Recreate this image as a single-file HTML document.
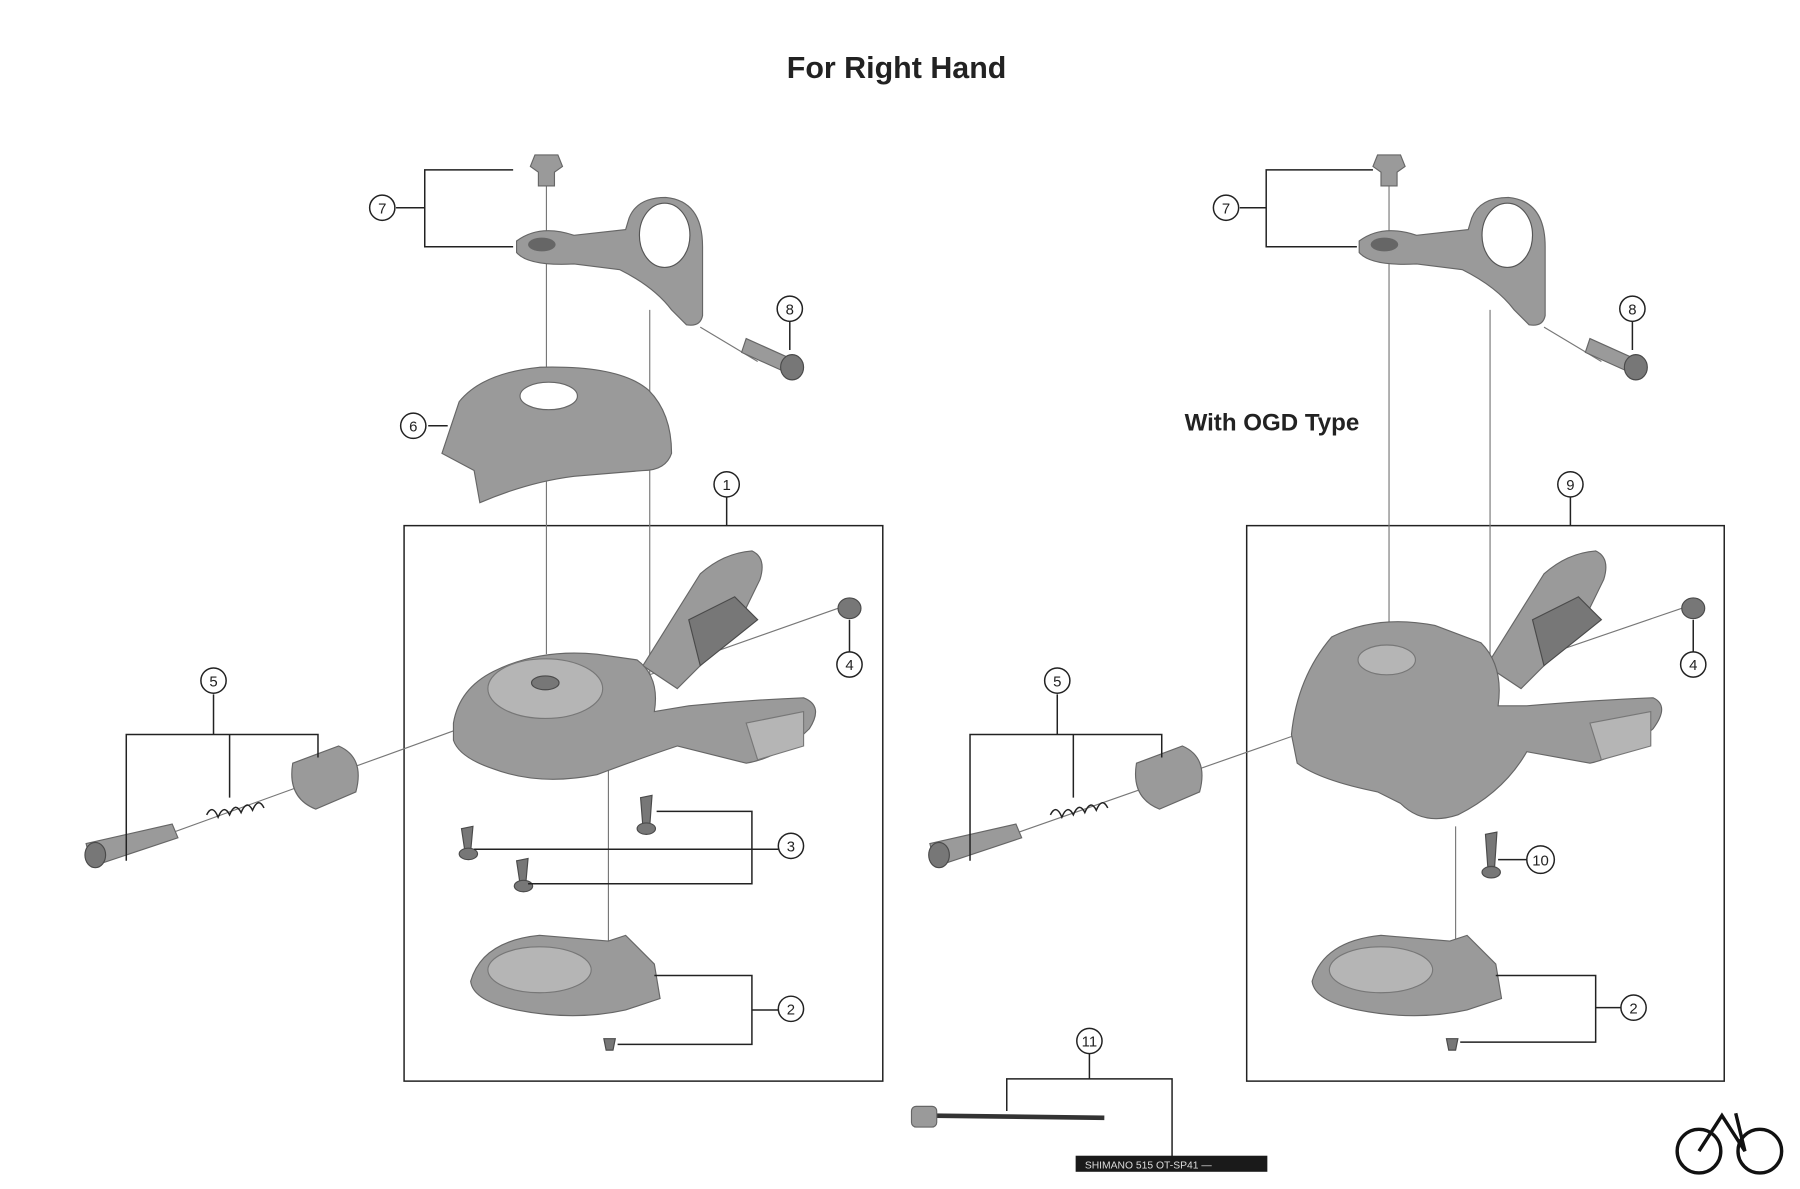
<!DOCTYPE html>
<html><head><meta charset="utf-8"><style>
html,body{margin:0;padding:0;background:#fff;}
svg{display:block;}
text{font-family:"Liberation Sans",sans-serif;}
.c{fill:#fff;stroke:#222;stroke-width:1.3}
.n{font-size:13px;text-anchor:middle;fill:#222}
.l{stroke:#222;stroke-width:1.3;fill:none}
.t{stroke:#777;stroke-width:1;fill:none}
.p{fill:#9a9a9a;stroke:#666;stroke-width:1}
.d{fill:#777;stroke:#4a4a4a;stroke-width:1}
.g{fill:#b5b5b5;stroke:#777;stroke-width:1}
</style></head><body>
<svg width="1800" height="1189" viewBox="0 0 1568 1036" preserveAspectRatio="none" xmlns="http://www.w3.org/2000/svg">
<rect width="1568" height="1036" fill="#fff"/>
<text x="781" y="68" font-size="26.5" font-weight="bold" text-anchor="middle" fill="#222">For Right Hand</text>
<text x="1108" y="375" font-size="21" font-weight="bold" text-anchor="middle" fill="#222">With OGD Type</text>

<rect x="352" y="458" width="417" height="484" class="l"/>
<rect x="1086" y="458" width="416" height="484" class="l"/>

<g id="left">
<line x1="476" y1="160" x2="476" y2="570" class="t"/>
<line x1="566" y1="270" x2="566" y2="640" class="t"/>
<line x1="530" y1="640" x2="530" y2="880" class="t"/>
<line x1="610" y1="285" x2="660" y2="315" class="t"/>
<line x1="560" y1="590" x2="730" y2="530" class="t"/>
<line x1="110" y1="740" x2="400" y2="635" class="t"/>
<path d="M466 135 L486 135 L490 145 L483 150 L483 162 L469 162 L469 150 L462 145 Z" class="p"/>
<path d="M450 210 Q470 195 500 205 L545 200 L548 190 Q555 172 580 172 Q612 175 612 215 L612 275 Q610 285 598 283 L585 270 Q570 250 540 235 L500 230 Q460 232 450 220 Z" class="p"/>
<ellipse cx="579" cy="205" rx="22" ry="28" fill="#fff" stroke="#555"/>
<ellipse cx="472" cy="213" rx="12" ry="6" fill="#666"/>
<path d="M650 295 L690 313 L686 325 L646 307 Z" class="p"/>
<ellipse cx="690" cy="320" rx="10" ry="11" class="d"/>
<path d="M385 395 L400 350 Q420 325 470 320 Q540 318 565 340 Q585 360 585 395 Q580 410 560 410 L500 415 Q460 420 418 438 L413 410 Z" class="p"/>
<ellipse cx="478" cy="345" rx="25" ry="12" fill="#fff" stroke="#666"/>
<path d="M560 580 L610 500 Q630 482 655 480 Q668 486 662 505 L640 550 L590 600 Z" class="p"/>
<path d="M600 540 L640 520 L660 540 L610 580 Z" class="d"/>
<path d="M395 630 Q400 600 430 585 Q470 565 520 570 L555 575 Q575 590 570 620 L600 615 Q650 610 700 608 Q718 615 705 635 Q680 660 650 665 L590 650 Q560 660 520 675 Q470 685 430 670 Q400 660 395 645 Z" class="p"/>
<path d="M650 630 L700 620 L700 650 L660 662 Z" class="g"/>
<ellipse cx="475" cy="600" rx="50" ry="26" class="g"/>
<ellipse cx="475" cy="595" rx="12" ry="6" class="d"/>
<ellipse cx="740" cy="530" rx="10" ry="9" class="d"/>
<path d="M75 735 L150 718 L155 730 L80 755 Z" class="p"/>
<ellipse cx="83" cy="745" rx="9" ry="11" class="d"/>
<path d="M180 710 Q185 700 190 712 Q195 700 200 710 Q205 698 210 708 Q215 696 220 706 Q225 694 230 704" class="l" stroke="#555" stroke-width="3"/>
<path d="M255 665 L295 650 Q318 660 310 690 L275 705 Q250 695 255 665 Z" class="p"/>
<path d="M402 722 L412 720 L410 742 L405 742 Z" class="d"/><ellipse cx="408" cy="744" rx="8" ry="5" class="d"/>
<path d="M450 750 L460 748 L458 770 L453 770 Z" class="d"/><ellipse cx="456" cy="772" rx="8" ry="5" class="d"/>
<path d="M558 695 L568 693 L566 720 L560 720 Z" class="d"/><ellipse cx="563" cy="722" rx="8" ry="5" class="d"/>
<path d="M410 855 Q420 820 470 815 L530 820 L545 815 L570 840 L575 870 L545 880 Q500 890 450 880 Q412 872 410 855 Z" class="p"/>
<ellipse cx="470" cy="845" rx="45" ry="20" class="g"/>
<path d="M526 905 L536 905 L534 915 L528 915 Z" class="d"/>
<path d="M447 148 L370 148 L370 215 L447 215 M345 181 L370 181" class="l"/>
<path d="M413 740 L655 740 L655 770 L460 770 M655 740 L678 740 M572 707 L655 707 L655 740" class="l"/>
<path d="M570 850 L655 850 L655 910 L538 910 M655 880 L678 880" class="l"/>
<path d="M110 750 L110 640 L277 640 L277 660 M186 640 L186 605 M200 640 L200 695" class="l"/>
<path d="M633 433 L633 458 M373 371 L390 371 M740 568 L740 540 M688 280 L688 305" class="l"/>
</g>

<g id="right">
<line x1="1210" y1="160" x2="1210" y2="575" class="t"/>
<line x1="1298" y1="270" x2="1298" y2="610" class="t"/>
<line x1="1268" y1="720" x2="1268" y2="880" class="t"/>
<line x1="1345" y1="285" x2="1395" y2="315" class="t"/>
<line x1="1290" y1="590" x2="1465" y2="530" class="t"/>
<line x1="845" y1="740" x2="1130" y2="640" class="t"/>
<path d="M1200 135 L1220 135 L1224 145 L1217 150 L1217 162 L1203 162 L1203 150 L1196 145 Z" class="p"/>
<path d="M1184 210 Q1204 195 1234 205 L1279 200 L1282 190 Q1289 172 1314 172 Q1346 175 1346 215 L1346 275 Q1344 285 1332 283 L1319 270 Q1304 250 1274 235 L1234 230 Q1194 232 1184 220 Z" class="p"/>
<ellipse cx="1313" cy="205" rx="22" ry="28" fill="#fff" stroke="#555"/>
<ellipse cx="1206" cy="213" rx="12" ry="6" fill="#666"/>
<path d="M1385 295 L1425 313 L1421 325 L1381 307 Z" class="p"/>
<ellipse cx="1425" cy="320" rx="10" ry="11" class="d"/>
<path d="M1295 580 L1345 500 Q1365 482 1390 480 Q1403 486 1397 505 L1375 550 L1325 600 Z" class="p"/>
<path d="M1335 540 L1375 520 L1395 540 L1345 580 Z" class="d"/>
<path d="M1125 640 Q1130 590 1160 555 Q1200 535 1250 545 L1290 560 Q1310 580 1305 615 L1330 615 Q1390 610 1440 608 Q1455 615 1440 635 Q1410 660 1385 665 L1330 655 Q1310 690 1270 710 Q1240 720 1220 700 L1200 690 Q1150 680 1130 665 Z" class="p"/>
<path d="M1385 630 L1438 620 L1438 650 L1395 662 Z" class="g"/>
<ellipse cx="1208" cy="575" rx="25" ry="13" class="g"/>
<ellipse cx="1475" cy="530" rx="10" ry="9" class="d"/>
<path d="M810 735 L885 718 L890 730 L815 755 Z" class="p"/>
<ellipse cx="818" cy="745" rx="9" ry="11" class="d"/>
<path d="M915 710 Q920 700 925 712 Q930 700 935 710 Q940 698 945 708 Q950 696 955 706 Q960 694 965 704" class="l" stroke="#555" stroke-width="3"/>
<path d="M990 665 L1030 650 Q1053 660 1045 690 L1010 705 Q985 695 990 665 Z" class="p"/>
<path d="M1294 727 L1304 725 L1302 755 L1296 755 Z" class="d"/><ellipse cx="1299" cy="760" rx="8" ry="5" class="d"/>
<path d="M1143 855 Q1153 820 1203 815 L1263 820 L1278 815 L1303 840 L1308 870 L1278 880 Q1233 890 1183 880 Q1145 872 1143 855 Z" class="p"/>
<ellipse cx="1203" cy="845" rx="45" ry="20" class="g"/>
<path d="M1260 905 L1270 905 L1268 915 L1262 915 Z" class="d"/>
<path d="M1196 148 L1103 148 L1103 215 L1182 215 M1080 181 L1103 181" class="l"/>
<path d="M1305 749 L1330 749" class="l"/>
<path d="M1303 850 L1390 850 L1390 908 L1272 908 M1390 878 L1412 878" class="l"/>
<path d="M845 750 L845 640 L1012 640 L1012 660 M921 640 L921 605 M935 640 L935 695" class="l"/>
<path d="M1368 433 L1368 458 M1475 568 L1475 540 M1422 280 L1422 305" class="l"/>
</g>

<path d="M949 918 L949 940 M877 968 L877 940 L1021 940 L1021 1010" class="l"/>
<line x1="805" y1="972" x2="962" y2="974" stroke="#333" stroke-width="4"/>
<rect x="794" y="964" width="22" height="18" rx="4" class="p"/>
<rect x="937" y="1007" width="167" height="14" fill="#1a1a1a"/>
<text x="945" y="1018" font-size="9" fill="#ddd">SHIMANO 515  OT-SP41 —</text>

<g>
<circle cx="333" cy="181" r="11" class="c"/><text x="333" y="186" class="n">7</text>
<circle cx="688" cy="269" r="11" class="c"/><text x="688" y="274" class="n">8</text>
<circle cx="360" cy="371" r="11" class="c"/><text x="360" y="376" class="n">6</text>
<circle cx="633" cy="422" r="11" class="c"/><text x="633" y="427" class="n">1</text>
<circle cx="740" cy="579" r="11" class="c"/><text x="740" y="584" class="n">4</text>
<circle cx="186" cy="593" r="11" class="c"/><text x="186" y="598" class="n">5</text>
<circle cx="689" cy="737" r="11" class="c"/><text x="689" y="742" class="n">3</text>
<circle cx="689" cy="879" r="11" class="c"/><text x="689" y="884" class="n">2</text>
<circle cx="1068" cy="181" r="11" class="c"/><text x="1068" y="186" class="n">7</text>
<circle cx="1422" cy="269" r="11" class="c"/><text x="1422" y="274" class="n">8</text>
<circle cx="1368" cy="422" r="11" class="c"/><text x="1368" y="427" class="n">9</text>
<circle cx="1475" cy="579" r="11" class="c"/><text x="1475" y="584" class="n">4</text>
<circle cx="921" cy="593" r="11" class="c"/><text x="921" y="598" class="n">5</text>
<circle cx="1342" cy="749" r="12" class="c"/><text x="1342" y="754" class="n">10</text>
<circle cx="1423" cy="878" r="11" class="c"/><text x="1423" y="883" class="n">2</text>
<circle cx="949" cy="907" r="11" class="c"/><text x="949" y="912" class="n">11</text>
</g>

<g fill="none" stroke="#111" stroke-width="3">
<circle cx="1480" cy="1003" r="19"/><circle cx="1533" cy="1003" r="19"/>
<path d="M1480 1003 L1500 972 L1520 1003 L1512 970"/>
</g>
</svg>
</body></html>
